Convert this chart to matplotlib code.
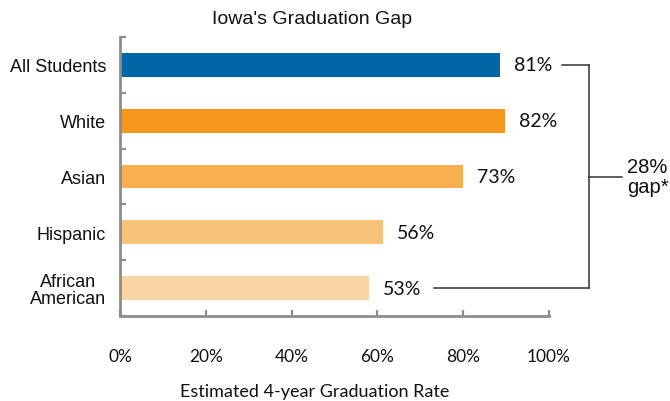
import numpy as np
import matplotlib.pyplot as plt

# data
groups = ['All Students', 'White', 'Asian', 'Hispanic', 'African\nAmerican']
rates = [81, 82, 73, 56, 53]
colors = ['#0066A6', '#F7981D', '#F8AF50', '#F9C27A', '#FBD6A4']
tick_labels = ['0%', '20%', '40%', '60%', '80%', '100%']
gap_text = '28%\ngap*'

# the original axis is stretched: the 100% tick sits at about 91.4% of the bar scale
XMAX = 0.914

fig = plt.figure(figsize=(6.7, 4.02), dpi=100)
ax = fig.add_axes([120 / 670, 1 - 317 / 402, 429 / 670, 279 / 402])

y = np.arange(len(groups))
vals = np.array(rates) / 100.0
ax.barh(y, vals, height=0.43, color=colors, zorder=2)

ax.set_xlim(0, XMAX)
ax.set_ylim(len(groups) - 0.5, -0.5)

# spines
for s in ['top', 'right']:
	ax.spines[s].set_visible(False)
for s in ['left', 'bottom']:
	ax.spines[s].set_color('#8C8C8C')
	ax.spines[s].set_linewidth(2.0)

# x ticks
ax.set_xticks(np.linspace(0, XMAX, len(tick_labels)))
ax.set_xticklabels(tick_labels, fontfamily='Lato', fontsize=12.5, color='#111111')
ax.tick_params(axis='x', direction='in', length=4.5, width=1.6, color='#8C8C8C', pad=23)

# y ticks: marks between groups, labels at the centres
ax.set_yticks(np.arange(-0.5, len(groups), 1.0))
ax.set_yticklabels([])
ax.tick_params(axis='y', which='major', direction='in', length=4.5, width=1.6, color='#8C8C8C')
ax.set_yticks(y, minor=True)
ax.set_yticklabels(groups, minor=True, fontfamily='Liberation Sans', fontsize=13, color='#111111')
ax.tick_params(axis='y', which='minor', length=0, pad=10)
for lab in ax.get_yticklabels(minor=True):
	lab.set_multialignment('center')
	lab.set_linespacing(1.0)

# value labels
for i, v in enumerate(vals):
	ax.annotate('%d%%' % rates[i], xy=(v, i), xytext=(10, 0), textcoords='offset points',
				ha='left', va='center', fontfamily='Lato', fontsize=14, color='#111111')

# gap bracket
bx = 1.0
ax.plot([0.942, bx], [0, 0], color='#333333', lw=1.1, clip_on=False)
ax.plot([bx, bx], [0, 4], color='#333333', lw=1.1, clip_on=False)
ax.plot([0.669, bx], [4, 4], color='#333333', lw=1.1, clip_on=False)
ax.plot([bx, 1.07], [2, 2], color='#333333', lw=1.1, clip_on=False)
ax.text(1.081, 2, gap_text, ha='left', va='center', fontfamily='Liberation Sans',
		fontsize=14.5, color='#111111', linespacing=1.05)

fig.text(312 / 670, 1 - 20 / 402, "Iowa's Graduation Gap", ha='center', va='center',
		 fontfamily='Liberation Sans', fontsize=14, color='#111111')
fig.text(315 / 670, 1 - 392 / 402, 'Estimated 4-year Graduation Rate', ha='center', va='center',
		 fontfamily='Lato', fontsize=13, color='#111111')

fig.savefig('out.png', dpi=100)
